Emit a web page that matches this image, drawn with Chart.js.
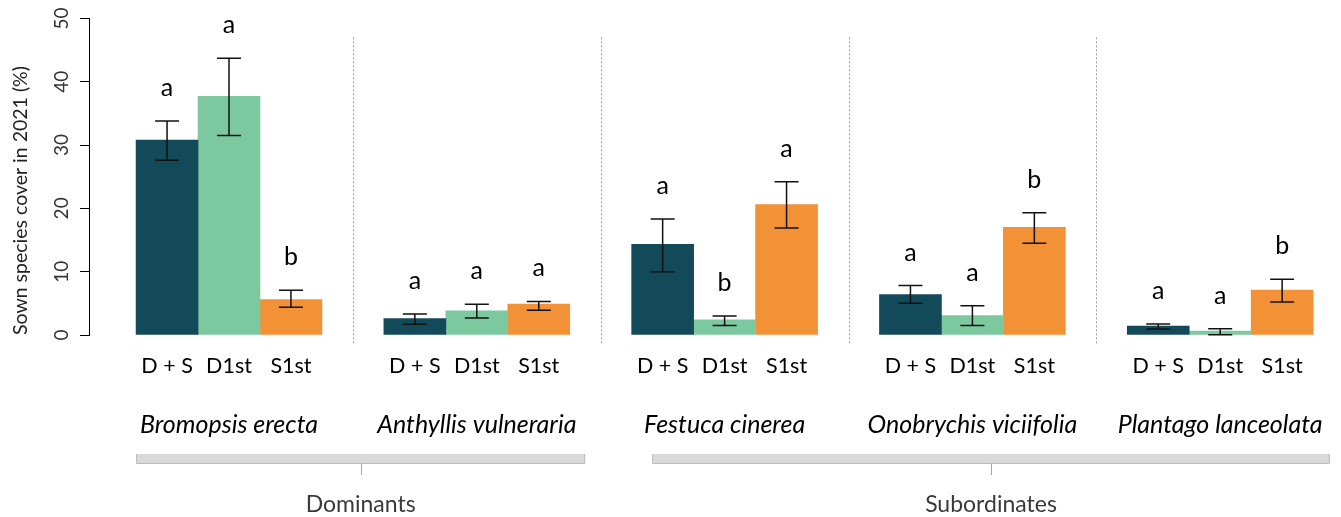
<!DOCTYPE html>
<html>
<head>
<meta charset="utf-8">
<title>Sown species cover in 2021</title>
<script src="https://cdn.jsdelivr.net/npm/chart.js@4.4.1/dist/chart.umd.min.js"></script>
<style>
  html, body { margin: 0; padding: 0; background: #fff; }
  #wrap { position: relative; width: 1341px; height: 517px; }
</style>
</head>
<body>
<div id="wrap"><canvas id="coverChart"></canvas></div>
<script>
// Values
var species = ['Bromopsis erecta', 'Anthyllis vulneraria', 'Festuca cinerea', 'Onobrychis viciifolia', 'Plantago lanceolata'];
var treatments = ['D + S', 'D1st', 'S1st'];
var functionalGroups = ['Dominants', 'Subordinates'];
var yTicks = [0, 10, 20, 30, 40, 50];

// D + S
var dsMean = [30.8, 2.6, 14.3, 6.4, 1.4];
var dsLow = [27.6, 1.7, 10.0, 5.0, 0.95];
var dsHigh = [33.8, 3.3, 18.3, 7.8, 1.75];
var dsLetters = ['a', 'a', 'a', 'a', 'a'];

// D1st
var d1Mean = [37.7, 3.8, 2.4, 3.05, 0.6];
var d1Low = [31.5, 2.7, 1.5, 1.5, 0.05];
var d1High = [43.7, 4.85, 3.0, 4.6, 1.0];
var d1Letters = ['a', 'a', 'b', 'a', 'a'];

// S1st
var s1Mean = [5.6, 4.9, 20.6, 17.0, 7.1];
var s1Low = [4.4, 3.9, 16.9, 14.5, 5.2];
var s1High = [7.05, 5.3, 24.2, 19.3, 8.8];
var s1Letters = ['b', 'a', 'a', 'b', 'b'];

var FONT = 'Lato, "Open Sans", sans-serif';
var colors = ['#134a59', '#7cc9a0', '#f39136'];

// each species takes 4 slots on the x scale: 1 gap + 3 bars
function slotOf(g, t) { return g * 4 + t + 1.5; }

var means = [dsMean, d1Mean, s1Mean];
var lows = [dsLow, d1Low, s1Low];
var highs = [dsHigh, d1High, s1High];
var letters = [dsLetters, d1Letters, s1Letters];

var datasets = treatments.map(function(name, t) {
    return {
        label: name,
        data: means[t].map(function(v, g) { return { x: slotOf(g, t), y: v }; }),
        errLow: lows[t],
        errHigh: highs[t],
        letters: letters[t],
        backgroundColor: colors[t],
        borderWidth: 0,
        grouped: false,
        barPercentage: 1,
        categoryPercentage: 1
    };
});

// brackets under the species names (x scale units)
var bracketSpans = [[1.0, 8.25], [9.33, 20.27]];

var figureExtras = {
    id: 'figureExtras',
    afterDatasetsDraw: function(chart) {
        var ctx = chart.ctx;
        var xs = chart.scales.x;
        var ys = chart.scales.y;
        ctx.save();

        // dotted separators
        ctx.strokeStyle = '#9f9f9f';
        ctx.lineWidth = 1;
        ctx.setLineDash([2, 2]);
        for (var g = 1; g < species.length; g++) {
            var sx = Math.round(xs.getPixelForValue(g * 4 + 0.5)) + 0.5;
            ctx.beginPath();
            ctx.moveTo(sx, ys.getPixelForValue(47));
            ctx.lineTo(sx, ys.getPixelForValue(-1.5));
            ctx.stroke();
        }
        ctx.setLineDash([]);

        // error bars + letters
        ctx.strokeStyle = '#111';
        ctx.lineWidth = 1.5;
        ctx.fillStyle = '#000';
        ctx.font = '25px ' + FONT;
        ctx.textAlign = 'center';
        ctx.textBaseline = 'alphabetic';
        chart.data.datasets.forEach(function(ds) {
            ds.data.forEach(function(pt, i) {
                var cx = xs.getPixelForValue(pt.x);
                var yHi = ys.getPixelForValue(ds.errHigh[i]);
                var yLo = ys.getPixelForValue(ds.errLow[i]);
                ctx.beginPath();
                ctx.moveTo(cx, yHi); ctx.lineTo(cx, yLo);
                ctx.moveTo(cx - 12, yHi); ctx.lineTo(cx + 12, yHi);
                ctx.moveTo(cx - 12, yLo); ctx.lineTo(cx + 12, yLo);
                ctx.stroke();
                ctx.fillText(ds.letters[i], cx, yHi - 25);
            });
        });

        // species names
        ctx.font = 'italic 25px ' + FONT;
        species.forEach(function(name, g) {
            ctx.fillText(name, xs.getPixelForValue(slotOf(g, 1)), 432.5);
        });

        // brackets + functional group names
        bracketSpans.forEach(function(span, k) {
            var x0 = xs.getPixelForValue(span[0]);
            var x1 = xs.getPixelForValue(span[1]);
            var mid = (x0 + x1) / 2;
            ctx.fillStyle = '#d9d9d9';
            ctx.fillRect(x0, 454, x1 - x0, 9.5);
            ctx.strokeStyle = '#bdbdbd';
            ctx.lineWidth = 1;
            ctx.beginPath();
            ctx.moveTo(x0 + 0.5, 454);
            ctx.lineTo(x0 + 0.5, 463.5);
            ctx.lineTo(x1 - 0.5, 463.5);
            ctx.lineTo(x1 - 0.5, 454);
            ctx.stroke();
            ctx.strokeStyle = '#a6a6a6';
            ctx.beginPath();
            ctx.moveTo(Math.round(mid) + 0.5, 463.5);
            ctx.lineTo(Math.round(mid) + 0.5, 475);
            ctx.stroke();
            ctx.fillStyle = '#3a3a3a';
            ctx.font = '23px ' + FONT;
            ctx.fillText(functionalGroups[k], mid, 511.5);
        });

        ctx.restore();
    }
};

var ctxCover = document.getElementById('coverChart').getContext('2d');
var coverChart = new Chart(ctxCover, {
    type: 'bar',
    data: { datasets: datasets },
    options: {
        responsive: true,
        maintainAspectRatio: false,
        animation: false,
        layout: { padding: { top: 18.3, left: 0, right: 0, bottom: 142 } },
        plugins: {
            legend: { display: false },
            tooltip: { enabled: false }
        },
        scales: {
            x: {
                type: 'linear',
                offset: false,
                min: 0.24,
                max: 20.45,
                afterBuildTicks: function(axis) {
                    var ticks = [];
                    species.forEach(function(s, g) {
                        treatments.forEach(function(t, k) { ticks.push({ value: slotOf(g, k) }); });
                    });
                    axis.ticks = ticks;
                },
                afterFit: function(axis) { axis.height = 40; },
                grid: { display: false, drawTicks: false, offset: false },
                border: { display: false },
                ticks: {
                    autoSkip: false,
                    minRotation: 0,
                    maxRotation: 0,
                    padding: 18,
                    color: '#000',
                    font: { family: FONT, size: 21.5 },
                    callback: function(value, index) { return treatments[index % 3]; }
                }
            },
            y: {
                min: 0,
                max: 50,
                afterBuildTicks: function(axis) {
                    axis.ticks = yTicks.map(function(v) { return { value: v }; });
                },
                afterFit: function(axis) { axis.width = 89; },
                grid: { drawOnChartArea: false, drawTicks: true, tickLength: 9, color: '#000', lineWidth: 1 },
                border: { display: true, color: '#000', width: 1 },
                ticks: {
                    minRotation: 90,
                    maxRotation: 90,
                    crossAlign: 'center',
                    padding: 7,
                    color: '#333',
                    font: { family: FONT, size: 19 }
                },
                title: {
                    display: true,
                    text: 'Sown species cover in 2021 (%)',
                    align: 'start',
                    padding: { top: 9, bottom: 0 },
                    color: '#222',
                    font: { family: FONT, size: 19.5 }
                }
            }
        }
    },
    plugins: [figureExtras]
});
</script>
</body>
</html>
